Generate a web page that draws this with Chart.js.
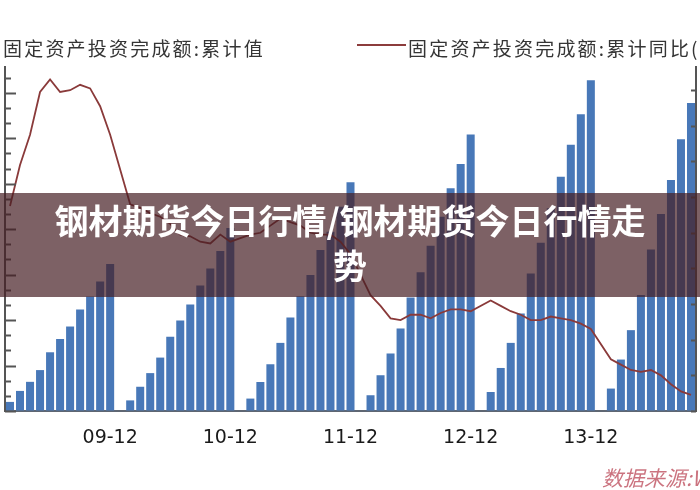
<!DOCTYPE html>
<html>
<head>
<meta charset="utf-8">
<script src="https://cdn.jsdelivr.net/npm/chart.js@4.4.0/dist/chart.umd.min.js"></script>
<style>
html,body{margin:0;padding:0;background:#fff;}
#wrap{position:relative;width:700px;height:490px;overflow:hidden;background:#fff;}
#c{position:absolute;left:0;top:0;}
.leg{position:absolute;font-family:"Noto Sans CJK SC";font-size:19px;color:#353535;white-space:nowrap;letter-spacing:2.2px;line-height:20px;}
#leg1{left:3px;top:38px;}
#leg2{left:408px;top:38px;}
#legline{position:absolute;left:357px;top:44px;width:49px;height:2px;background:#8c3c3c;}
#banner{position:absolute;left:0;top:193px;width:700px;height:104px;background:rgba(70,30,35,0.7);box-sizing:border-box;padding:4px 50px 0;text-align:center;color:#fff;font-family:"Noto Sans CJK SC";font-weight:700;font-size:34px;line-height:45px;letter-spacing:0;}
#src{position:absolute;left:602px;top:465px;font-family:"Noto Sans CJK SC";font-style:italic;font-size:21px;line-height:24px;color:rgba(190,80,95,0.8);white-space:nowrap;}
</style>
</head>
<body>
<div id="wrap">
<canvas id="c" width="700" height="490"></canvas>
<div class="leg" id="leg1">固定资产投资完成额:累计值</div>
<div id="legline"></div>
<div class="leg" id="leg2">固定资产投资完成额:累计同比(%)</div>
<div id="banner">钢材期货今日行情/钢材期货今日行情走势</div>
<div id="src">数据来源:Wind资讯</div>
</div>
<script>
// ---- data ----
const barLabel = '固定资产投资完成额:累计值';
const lineLabel = '固定资产投资完成额:累计同比(%)';
const years = ['09', '10', '11', '12', '13', '14'];
const firstMonth = [2, 1, 1, 1, 1, 1];
const tickLabels = ['09-12', '10-12', '11-12', '12-12', '13-12'];

// cumulative value (亿元), Jan not published -> null
const cum2009 = [12000, 26500, 38500, 54000, 77500, 95000, 111500, 134000, 151000, 171000, 194100];
const cum2010 = [null, 14000, 32000, 50000, 70500, 98000, 119500, 140500, 165500, 188000, 211000, 241400];
const cum2011 = [null, 16400, 38300, 61700, 89900, 123500, 151600, 179400, 212400, 236600, 269700, 301900];
const cum2012 = [null, 20800, 47200, 75900, 108900, 149900, 183000, 218100, 256500, 294000, 326100, 364800];
const cum2013 = [null, 25100, 56800, 89900, 128800, 181600, 222100, 267600, 309300, 351300, 391800, 436500];
const cum2014 = [null, 29600, 67900, 106700, 153000, 213300, 260000, 305000, 358800, 406400];

// cumulative YoY (%)
const yoy2009 = [26.5, 28.8, 30.5, 32.9, 33.6, 32.9, 33.0, 33.3, 33.1, 32.1, 30.5];
const yoy2010 = [null, 26.6, 26.4, 26.1, 25.9, 25.5, 24.9, 24.8, 24.5, 24.4, 24.9, 24.5];
const yoy2011 = [null, 24.9, 25.0, 25.4, 25.8, 25.6, 25.4, 25.0, 24.9, 24.9, 24.5, 23.8];
const yoy2012 = [null, 21.5, 20.9, 20.2, 20.1, 20.4, 20.4, 20.2, 20.5, 20.7, 20.7, 20.6];
const yoy2013 = [null, 21.2, 20.9, 20.6, 20.4, 20.1, 20.1, 20.3, 20.2, 20.1, 19.9, 19.6];
const yoy2014 = [null, 17.9, 17.6, 17.3, 17.2, 17.3, 17.0, 16.5, 16.1, 15.9];

const cumByYear = [cum2009, cum2010, cum2011, cum2012, cum2013, cum2014];
const yoyByYear = [yoy2009, yoy2010, yoy2011, yoy2012, yoy2013, yoy2014];

const categories = [];
cumByYear.forEach((arr, yi) => arr.forEach((_, mi) => {
  categories.push(years[yi] + '-' + String(firstMonth[yi] + mi).padStart(2, '0'));
}));
const cumData = [].concat(...cumByYear);
const yoyData = [].concat(...yoyByYear);

// inward tick marks drawn from the library's scales
const tickMarks = {
  id: 'tickMarks',
  afterDraw(chart) {
    const c = chart.ctx, a = chart.chartArea;
    const y = chart.scales.y, y1 = chart.scales.y1;
    c.save();
    c.strokeStyle = '#555';
    c.lineWidth = 2;
    for (let v = 0; v <= y.max; v += 20000) {
      const p = Math.round(y.getPixelForValue(v)) + 0.5;
      const len = (v % 60000 === 0) ? 11 : 6;
      c.beginPath(); c.moveTo(a.left, p); c.lineTo(a.left + len, p); c.stroke();
    }
    for (let v = 15; v <= y1.max; v += 2) {
      const p = Math.round(y1.getPixelForValue(v)) + 0.5;
      c.beginPath(); c.moveTo(a.right - 5, p); c.lineTo(a.right, p); c.stroke();
    }
    c.restore();
  }
};

new Chart(document.getElementById('c'), {
  type: 'bar',
  data: {
    labels: categories,
    datasets: [
      { type: 'line', label: lineLabel, data: yoyData, yAxisID: 'y1', borderColor: '#8a3a3a',
        borderWidth: 1.8, pointRadius: 0, spanGaps: true, tension: 0, order: 0 },
      { type: 'bar', label: barLabel, data: cumData, yAxisID: 'y', backgroundColor: '#4878b8',
        borderWidth: 0, barPercentage: 0.8, categoryPercentage: 1, order: 1 }
    ]
  },
  options: {
    responsive: false,
    animation: false,
    devicePixelRatio: 1,
    layout: { padding: { left: 5, right: 4, top: 67, bottom: 43 } },
    plugins: { legend: { display: false }, tooltip: { enabled: false } },
    scales: {
      x: {
        afterFit: (s) => { s.height = 36; s.paddingLeft = 0; s.paddingRight = 0; },
        grid: { display: false, drawTicks: false },
        border: { display: true, color: '#5f6773', width: 2 },
        ticks: {
          autoSkip: false, maxRotation: 0, minRotation: 0, padding: 16,
          color: '#1a1a1a', font: { family: 'DejaVu Sans', size: 19 },
          callback: (v, i) => tickLabels.includes(categories[i]) ? categories[i] : ''
        }
      },
      y: {
        position: 'left', min: 0, max: 454000,
        afterFit: (s) => { s.width = 0; },
        ticks: { display: false, stepSize: 20000 },
        grid: {
          drawTicks: false, lineWidth: 1,
          color: (ctx) => (ctx.tick && ctx.tick.value > 0 && ctx.tick.value % 60000 === 0) ? '#dadada' : 'rgba(0,0,0,0)'
        },
        border: { color: '#555', width: 2 }
      },
      y1: {
        position: 'right', min: 15, max: 34.3,
        afterFit: (s) => { s.width = 0; },
        ticks: { display: false, stepSize: 2 },
        grid: { display: false, drawTicks: false },
        border: { color: '#555', width: 2 }
      }
    }
  },
  plugins: [tickMarks]
});
</script>
</body>
</html>
